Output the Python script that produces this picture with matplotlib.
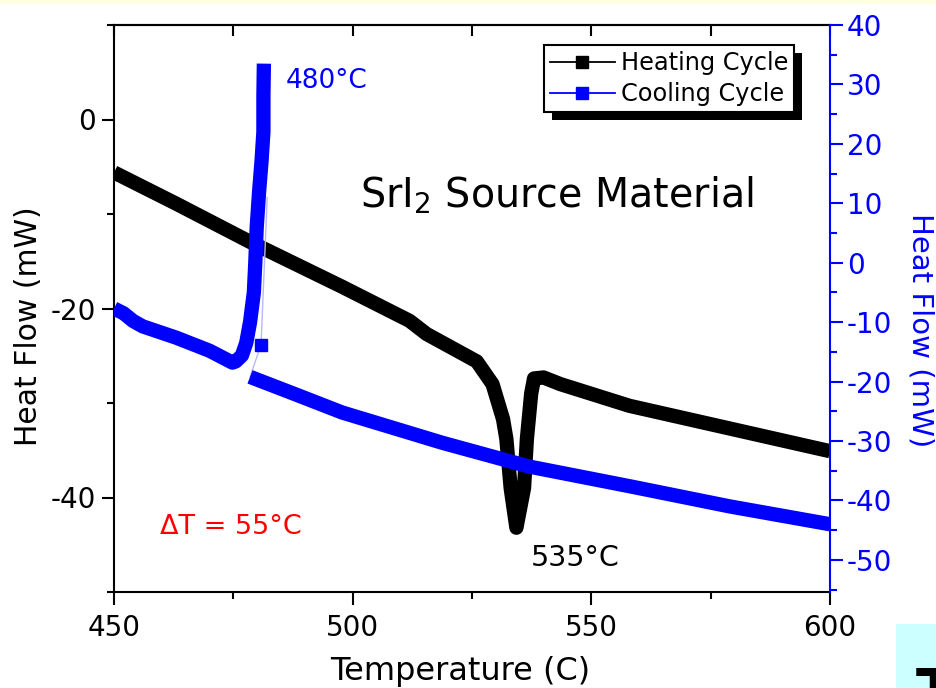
import matplotlib
matplotlib.use('Agg')
import numpy as np
import matplotlib.pyplot as plt
from matplotlib.lines import Line2D
from matplotlib.patches import Rectangle
from matplotlib.ticker import MultipleLocator
from matplotlib.transforms import IdentityTransform

plt.rcParams['font.family'] = ['DejaVu Sans']
plt.rcParams['axes.unicode_minus'] = False

# ---- data ----
# Heating cycle, left axis (mW)
heat_T = [450.0, 463.0, 478.3, 497.8, 511.9, 515.5, 526.0, 529.3, 531.5, 532.2,
          533.1, 534.3, 535.9, 536.5, 537.4, 538.0, 540.0, 543.5, 558.0, 579.0, 600.0]
heat_H = [-5.6, -8.9, -12.9, -17.7, -21.3, -22.7, -25.6, -28.0, -31.7, -33.8,
          -39.0, -43.2, -39.0, -33.8, -29.0, -27.4, -27.3, -28.0, -30.3, -32.7, -35.1]

# Cooling cycle, right axis (mW): lower branch (600 C down to the onset)
cool_lo_T = [600.0, 579.0, 558.0, 537.0, 518.8, 497.8, 488.2, 478.5]
cool_lo_H = [-44.0, -41.0, -37.6, -34.3, -30.3, -25.2, -22.2, -19.2]
# recalescence link (thin line)
link_T = [478.5, 480.8, 482.1]
link_H = [-19.2, -13.8, 11.0]
# exothermic spike and continuation down to 450 C
cool_hi_T = [481.4, 481.3, 481.3, 480.9, 480.4, 479.9, 479.6, 479.3, 478.5, 477.7,
             476.8, 475.5, 474.8, 470.0, 463.0, 456.0, 454.0, 452.0, 450.0]
cool_hi_H = [33.5, 28.0, 22.0, 17.0, 12.0, 6.0, 0.0, -5.0, -10.0, -13.5,
             -15.6, -16.6, -16.8, -14.8, -12.6, -10.7, -9.8, -8.5, -7.7]

x_ticks_top = [450, 475, 500, 525, 550, 575, 600]

W, H = 936, 688
L, R, T, B = 114, 830, 25, 592

fig = plt.figure(figsize=(W / 100, H / 100), dpi=100)
fig.patch.set_facecolor('white')
fig.patches.append(Rectangle((0, 1 - 4 / H), 1, 4 / H, transform=fig.transFigure,
                             facecolor='#FFFFE2', edgecolor='none', zorder=-5))
fig.patches.append(Rectangle((896 / W, 0), 40 / W, 64 / H, transform=fig.transFigure,
                             facecolor='#CCFFFF', edgecolor='none', zorder=-5))
fig.text(916 / W, 1 - 665 / H, 'T', fontsize=40, fontweight='bold', color='black',
         ha='left', va='top')

ax = fig.add_axes([L / W, 1 - B / H, (R - L) / W, (B - T) / H])
ax2 = ax.twinx()

LW = 10.3
ax.plot(heat_T, heat_H, color='black', lw=LW, solid_joinstyle='round',
        solid_capstyle='butt', zorder=3)
ax2.plot(link_T, link_H, color='#B8B8FF', lw=1.0, marker='s', markevery=[1],
         mfc='blue', mec='blue', ms=8, zorder=2)
ax2.plot(cool_lo_T, cool_lo_H, color='blue', lw=LW, solid_joinstyle='round',
         solid_capstyle='butt', zorder=3)
ax2.plot(cool_hi_T, cool_hi_H, color='blue', lw=LW, solid_joinstyle='round',
         solid_capstyle='butt', zorder=3)

ax.set_xlim(450, 600)
ax.set_ylim(-50, 10)
ax2.set_ylim(-55.4, 40)

# left / bottom axis
ax.xaxis.set_major_locator(MultipleLocator(50))
ax.xaxis.set_minor_locator(MultipleLocator(25))
ax.yaxis.set_major_locator(MultipleLocator(20))
ax.yaxis.set_minor_locator(MultipleLocator(10))
ax.tick_params(which='both', direction='out', width=1.5, top=False, right=False)
ax.tick_params(which='major', length=9, labelsize=20)
ax.tick_params(which='minor', length=5)
ax.tick_params(axis='x', which='major', pad=7)
ax.tick_params(axis='y', which='major', pad=4)
for s in ['left', 'bottom', 'top']:
    ax.spines[s].set_linewidth(1.5)
ax.spines['right'].set_visible(False)

sec = ax.secondary_xaxis('top')
sec.set_xticks(x_ticks_top)
sec.tick_params(direction='in', length=8, width=1.5, labeltop=False)
sec.spines['top'].set_linewidth(1.5)

# right axis
ax2.yaxis.set_major_locator(MultipleLocator(10))
ax2.yaxis.set_minor_locator(MultipleLocator(5))
ax2.tick_params(axis='y', which='both', direction='out', width=1.5, colors='blue')
ax2.tick_params(axis='y', which='major', length=9, labelsize=20, pad=3)
ax2.tick_params(axis='y', which='minor', length=5)
ax2.spines['right'].set_color('blue')
ax2.spines['right'].set_linewidth(1.5)
for s in ['left', 'bottom', 'top']:
    ax2.spines[s].set_visible(False)

# labels
ax.set_xlabel('Temperature (C)', fontsize=23)
ax.xaxis.label.set_va('baseline')
ax.xaxis.set_label_coords((460 - L) / (R - L), (B - 680) / (B - T))
ax.set_ylabel('Heat Flow (mW)', fontsize=21.5)
ax.yaxis.label.set_va('baseline')
ax.yaxis.set_label_coords((37 - L) / (R - L), (B - 326) / (B - T))
ax2.set_ylabel('Heat Flow (mW)', fontsize=21, color='blue', rotation=270)
ax2.yaxis.label.set_va('baseline')
ax2.yaxis.set_label_coords((912 - L) / (R - L), (B - 330) / (B - T))

# annotations
ax2.text((286 - L) / (R - L), (B - 88) / (B - T), '480°C', color='blue', fontsize=19,
         ha='left', va='baseline', transform=ax2.transAxes)
ax2.text((531 - L) / (R - L), (B - 566) / (B - T), '535°C', color='black', fontsize=20.5,
         ha='left', va='baseline', transform=ax2.transAxes)
ax2.text((160 - L) / (R - L), (B - 534) / (B - T), 'ΔT = 55°C', color='red', fontsize=19.5,
         ha='left', va='baseline', transform=ax2.transAxes)
ax2.text((360 - L) / (R - L), (B - 207) / (B - T), 'SrI$_2$ Source Material', color='black',
         fontsize=28.5, ha='left', va='baseline', transform=ax2.transAxes)

# legend with hard black shadow
handles = [Line2D([], [], color='black', lw=1.3, marker='s', ms=8, label='Heating Cycle'),
           Line2D([], [], color='blue', lw=1.3, marker='s', ms=8, label='Cooling Cycle')]
leg = ax2.legend(handles=handles, loc='upper right',
                 bbox_to_anchor=((794 - L) / (R - L), (B - 45) / (B - T)),
                 borderaxespad=0, fontsize=17.3, frameon=True, fancybox=False,
                 edgecolor='black', framealpha=1, handlelength=2.7, handletextpad=0.25,
                 borderpad=0.25, labelspacing=0.3)
leg.get_frame().set_linewidth(1.5)
leg.set_zorder(10)

fig.canvas.draw()
bb = leg.get_window_extent()
shadow = Rectangle((bb.x0 + 8, bb.y0 - 8), bb.width, bb.height, transform=IdentityTransform(),
                   facecolor='black', edgecolor='none', zorder=9.5, clip_on=False)
ax2.add_artist(shadow)

fig.savefig('out.png', dpi=100)
